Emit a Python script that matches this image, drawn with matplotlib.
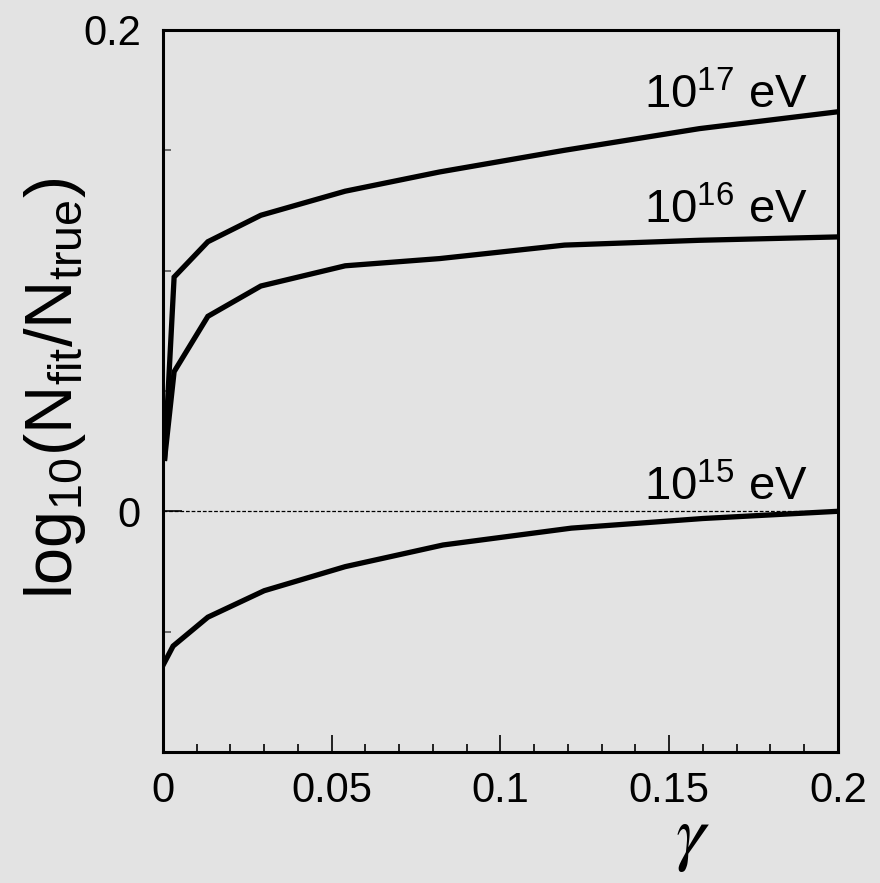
import numpy as np
import matplotlib.pyplot as plt
from matplotlib.ticker import MultipleLocator, FixedLocator

plt.rcParams['font.family'] = ['Liberation Sans', 'DejaVu Sans']
plt.rcParams['mathtext.fontset'] = 'custom'
plt.rcParams['mathtext.rm'] = 'Liberation Sans'
plt.rcParams['mathtext.it'] = 'Liberation Sans:italic'

# values
gamma = [0.0005, 0.0033, 0.0133, 0.029, 0.054, 0.082, 0.119, 0.159, 0.2]
e17 = [0.022, 0.0973, 0.112, 0.123, 0.133, 0.141, 0.150, 0.159, 0.166]
e16 = [0.022, 0.058, 0.081, 0.0936, 0.102, 0.105, 0.1106, 0.1126, 0.114]
gamma15 = [0.0, 0.003, 0.0133, 0.030, 0.054, 0.083, 0.121, 0.16, 0.2]
e15 = [-0.064, -0.056, -0.044, -0.033, -0.023, -0.014, -0.007, -0.003, 0.0]

labels = [r'$10^{17}$ eV', r'$10^{16}$ eV', r'$10^{15}$ eV']
label_y = [0.1675, 0.1195, 0.0045]

bg = '#e3e3e3'
fig = plt.figure(figsize=(8.8, 8.83), dpi=100, facecolor=bg)
ax = fig.add_axes([0.1852, 0.1484, 0.767, 0.8177], facecolor=bg)

ax.plot([0, 0.2], [0, 0], color='black', lw=0.9, ls=(0, (3, 1.5)))
ax.plot(gamma, e17, color='black', lw=3.8, solid_joinstyle='miter')
ax.plot(gamma, e16, color='black', lw=3.8, solid_joinstyle='miter')
ax.plot(gamma15, e15, color='black', lw=3.8, solid_joinstyle='miter')

for lab, y in zip(labels, label_y):
    ax.text(0.1425, y, lab, fontsize=34, ha='left', va='baseline')

ax.set_xlim(0, 0.2)
ax.set_ylim(-0.1, 0.2)

ax.xaxis.set_major_locator(FixedLocator([0, 0.05, 0.1, 0.15, 0.2]))
ax.xaxis.set_minor_locator(MultipleLocator(0.01))
ax.set_xticklabels(['0', '0.05', '0.1', '0.15', '0.2'])
ax.yaxis.set_major_locator(FixedLocator([0, 0.2]))
ax.yaxis.set_minor_locator(FixedLocator([-0.05, 0.05, 0.1, 0.15]))
ax.set_yticklabels(['0', '0.2'])

ax.tick_params(axis='both', which='both', direction='in', labelsize=30,
               width=1.2, colors='black')
ax.tick_params(axis='x', which='major', length=12, pad=14)
ax.tick_params(axis='x', which='minor', length=6)
ax.tick_params(axis='y', which='major', length=14, pad=16)
ax.tick_params(axis='y', which='minor', length=6, colors='#555555')

for s in ax.spines.values():
    s.set_linewidth(2.2)

fig.text(0.062, 0.56, r'$\mathrm{log_{10}(N_{fit}/N_{true})}$', fontsize=48,
         rotation=90, ha='center', va='center')
fig.text(0.787, 1 - 857 / 883, r'$\gamma$', fontsize=54, ha='center',
         va='baseline', math_fontfamily='stix')

fig.savefig('out.png', dpi=100, facecolor=bg)
